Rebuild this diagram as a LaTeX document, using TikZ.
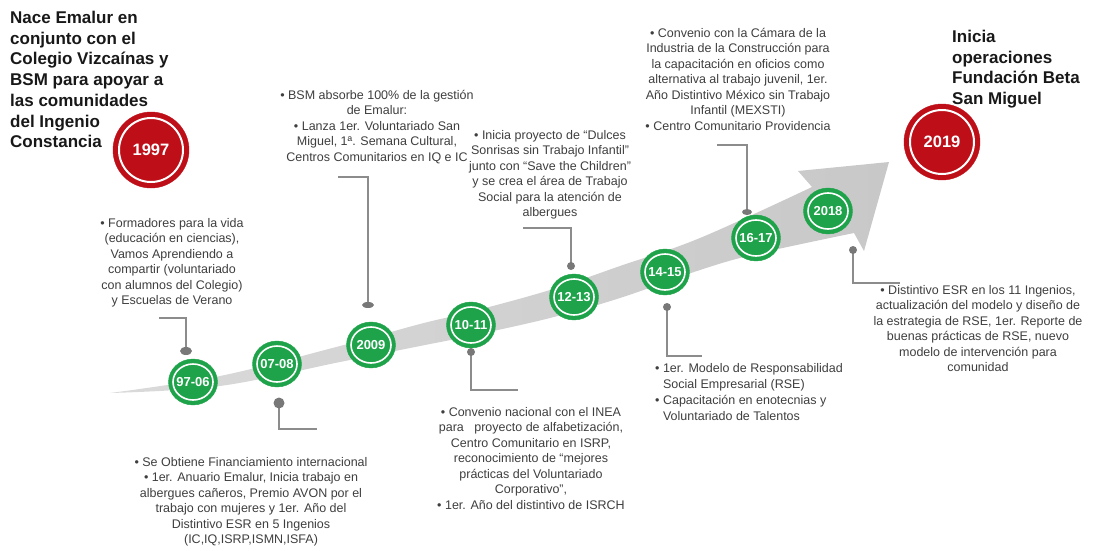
\documentclass[tikz,border=0pt]{standalone}
\usepackage{fontspec}
\setmainfont{Liberation Sans}
\usetikzlibrary{shapes.geometric}
\definecolor{grn}{RGB}{30,163,74}
\definecolor{rd}{RGB}{190,14,24}
\definecolor{arr}{RGB}{200,200,200}
\definecolor{arrL}{RGB}{218,218,218}
\definecolor{lnc}{RGB}{140,140,140}
\definecolor{dotc}{RGB}{120,120,120}
\definecolor{txt}{RGB}{62,62,62}
\definecolor{ttl}{RGB}{24,24,24}
\tikzset{
  yr/.style={ellipse, minimum width=49pt, minimum height=46pt, inner sep=0pt, fill=grn, draw=grn,
    text=white, font=\bfseries\fontsize{13}{14}\selectfont,
    path picture={\draw[white,line width=1.6pt] (path picture bounding box.center) ellipse (20pt and 18pt);}},
  bigyr/.style={circle, minimum size=76pt, inner sep=0pt, fill=rd, draw=rd,
    text=white, font=\bfseries\fontsize{16.5}{18}\selectfont,
    path picture={\draw[white,line width=2pt] (path picture bounding box.center) circle (32pt);}},
  body/.style={inner sep=0pt, text=txt, align=center, font=\fontsize{12.5}{15.5}\selectfont},
  title/.style={inner sep=0pt, text=ttl, align=left, font=\bfseries\fontsize{17}{20.7}\selectfont},
  dot/.style={ellipse, fill=dotc, inner sep=0pt},
  conn/.style={draw=lnc, line width=1.2pt},
}
\begin{document}
\begin{tikzpicture}[x=1pt,y=-1pt]
\useasboundingbox (0,0) rectangle (1093,550);
% arrow
\shade[left color=arrL, right color=arr]
  plot[smooth, tension=0.6] coordinates {(110,393) (220,376) (340,346) (420,324) (470,312) (550,290) (620,266) (700,238) (812,187)}
  -- (798,171) -- (889,162) -- (864,251)
  -- plot[smooth, tension=0.6] coordinates {(854,233) (756,254) (700,270) (620,298) (550,318) (470,336) (420,346) (340,362) (220,386) (110,393)}
  -- cycle;
% connector anchors
\coordinate (p1) at (186,351);
\coordinate (p2) at (279,403);
\coordinate (p3) at (368,305);
\coordinate (p4) at (471,352);
\coordinate (p5) at (571,266);
\coordinate (p6) at (667,307);
\coordinate (p7) at (747,212);
\coordinate (p8) at (853,250);
\coordinate (e1) at (159,318);
\coordinate (e2) at (317,429);
\coordinate (e3) at (338,177);
\coordinate (e4) at (518,390);
\coordinate (e5) at (523,228);
\coordinate (e6) at (702,356);
\coordinate (e7) at (717,145);
\coordinate (e8) at (900,283);
\foreach \i in {1,...,8} {\draw[conn] (p\i) |- (e\i);}
% dots
\node[dot, minimum width=12pt, minimum height=8pt] (d1) at (p1) {};
\node[dot, minimum width=11pt, minimum height=11pt] (d2) at (p2) {};
\node[dot, minimum width=12pt, minimum height=6pt] (d3) at (p3) {};
\node[dot, minimum width=8pt, minimum height=8pt] (d4) at (p4) {};
\node[dot, minimum width=8pt, minimum height=8pt] (d5) at (p5) {};
\node[dot, minimum width=8pt, minimum height=8pt] (d6) at (p6) {};
\node[dot, minimum width=10pt, minimum height=6pt] (d7) at (p7) {};
\node[dot, minimum width=8pt, minimum height=8pt] (d8) at (p8) {};
% year circles
\node[yr] (y1) at (193,382) {97-06};
\node[yr] (y2) at (277,364) {07-08};
\node[yr] (y3) at (371,345) {2009};
\node[yr] (y4) at (471,325) {10-11};
\node[yr] (y5) at (574,297) {12-13};
\node[yr] (y6) at (665,272) {14-15};
\node[yr] (y7) at (756,238) {16-17};
\node[yr] (y8) at (828,211) {2018};
\node[bigyr] (r1) at (151,150) {1997};
\node[bigyr] (r2) at (942,142) {2019};
% titles
\node[title, anchor=north west] (t1) at (10,11) {Nace Emalur en\\conjunto con el\\Colegio Vizcaínas y\\BSM para apoyar a\\las comunidades\\del Ingenio\\Constancia};
\node[title, anchor=north west] (t2) at (952,30) {Inicia\\operaciones\\Fundación Beta\\San Miguel};
% texts
\node[body, anchor=north] (b1) at (172,218) {• Formadores para la vida\\(educación en ciencias),\\Vamos Aprendiendo a\\compartir (voluntariado\\con alumnos del Colegio)\\y Escuelas de Verano};
\node[body, anchor=north] (b2) at (251,457) {• Se Obtiene Financiamiento internacional\\• 1er. Anuario Emalur, Inicia trabajo en\\albergues cañeros, Premio AVON por el\\trabajo con mujeres y 1er. Año del\\Distintivo ESR en 5 Ingenios\\(IC,IQ,ISRP,ISMN,ISFA)};
\node[body, anchor=north] (b3) at (377,90) {• BSM absorbe 100\% de la gestión\\de Emalur:\\• Lanza 1er. Voluntariado San\\Miguel, 1ª. Semana Cultural,\\Centros Comunitarios en IQ e IC};
\node[body, anchor=north] (b4) at (531,407) {• Convenio nacional con el INEA\\para\ \ \ proyecto de alfabetización,\\Centro Comunitario en ISRP,\\reconocimiento de “mejores\\prácticas del Voluntariado\\Corporativo”,\\• 1er. Año del distintivo de ISRCH};
\node[body, anchor=north] (b5) at (550,130) {• Inicia proyecto de “Dulces\\Sonrisas sin Trabajo Infantil”\\junto con “Save the Children”\\y se crea el área de Trabajo\\Social para la atención de\\albergues};
\node[body, anchor=north west, align=left, font=\fontsize{12.5}{16.2}\selectfont] (b6) at (655,363) {• 1er. Modelo de Responsabilidad\\\hphantom{• }Social Empresarial (RSE)\\• Capacitación en enotecnias y\\\hphantom{• }Voluntariado de Talentos};
\node[body, anchor=north] (b7) at (738,28) {• Convenio con la Cámara de la\\Industria de la Construcción para\\la capacitación en oficios como\\alternativa al trabajo juvenil, 1er.\\Año Distintivo México sin Trabajo\\Infantil (MEXSTI)\\• Centro Comunitario Providencia};
\node[body, anchor=north] (b8) at (978,285) {• Distintivo ESR en los 11 Ingenios,\\actualización del modelo y diseño de\\la estrategia de RSE, 1er. Reporte de\\buenas prácticas de RSE, nuevo\\modelo de intervención para\\comunidad};
\end{tikzpicture}
\end{document}
